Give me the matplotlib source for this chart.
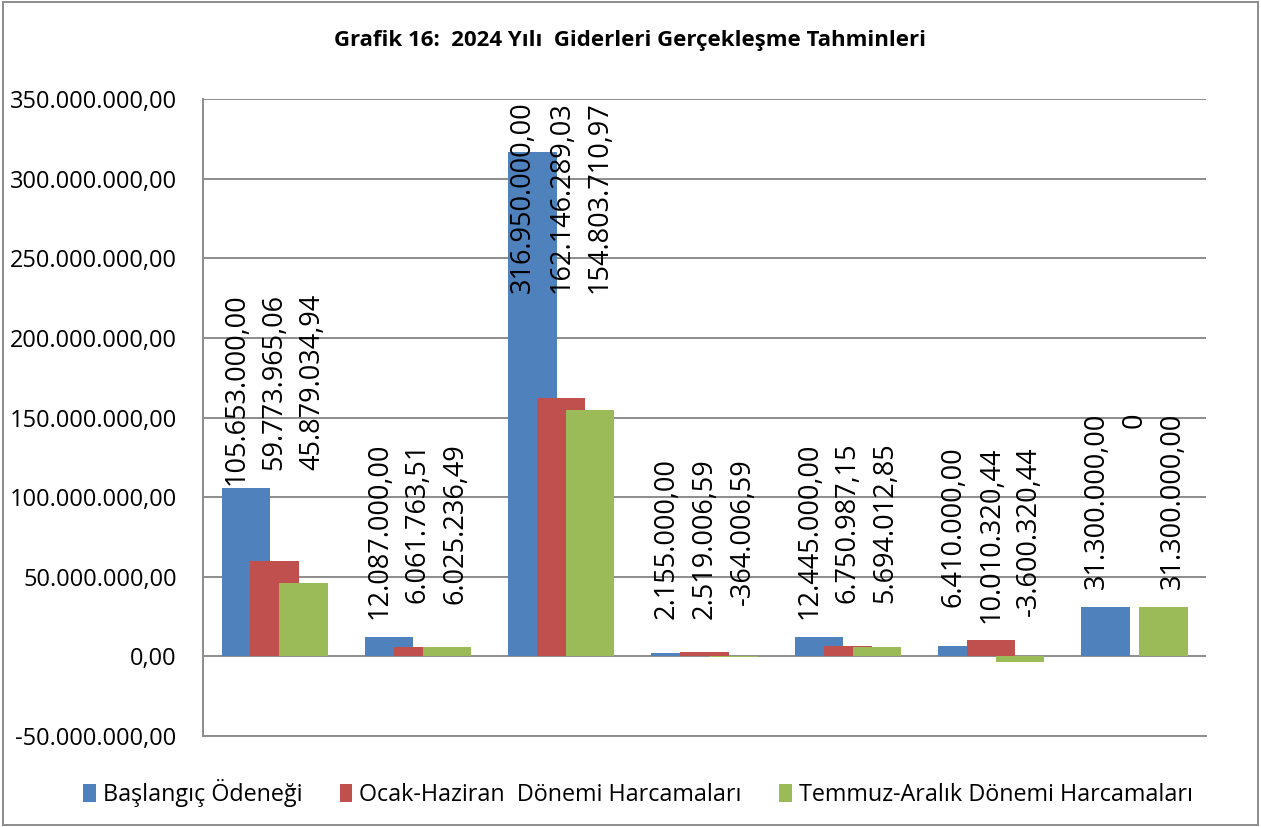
# -*- coding: utf-8 -*-
import numpy as np
import matplotlib.pyplot as plt
from matplotlib.patches import Rectangle

# =============================================================================
# Veri
# =============================================================================
kalemler = ["1", "2", "3", "4", "5", "6", "7"]
baslangic = [105653000.00, 12087000.00, 316950000.00, 2155000.00,
             12445000.00, 6410000.00, 31300000.00]
ocak_haziran = [59773965.06, 6061763.51, 162146289.03, 2519006.59,
                6750987.15, 10010320.44, 0.0]
temmuz_aralik = [45879034.94, 6025236.49, 154803710.97, -364006.59,
                 5694012.85, -3600320.44, 31300000.00]
seriler = ["Başlangıç Ödeneği", "Ocak-Haziran  Dönemi Harcamaları",
           "Temmuz-Aralık Dönemi Harcamaları"]
renkler = ["#4F81BD", "#C0504D", "#9BBB59"]
y_ticks = [-50e6, 0, 50e6, 100e6, 150e6, 200e6, 250e6, 300e6, 350e6]
baslik = "Grafik 16:  2024 Yılı  Giderleri Gerçekleşme Tahminleri"


def tr_format(v):
    if v == 0:
        return "0"
    s = f"{v:,.2f}"
    return s.replace(",", "X").replace(".", ",").replace("X", ".")


plt.rcParams['font.family'] = ['Open Sans', 'DejaVu Sans']

fig = plt.figure(figsize=(12.61, 8.27), dpi=100)
ax = fig.add_axes([0.161, 0.11, 0.7954, 0.7703])

x = np.arange(len(kalemler))
genislik = 0.338
adim = 0.202
veriler = [baslangic, ocak_haziran, temmuz_aralik]

for i, (vals, renk, ad) in enumerate(zip(veriler, renkler, seriler)):
    ax.bar(x + (i - 1) * adim, vals, width=genislik, color=renk, label=ad,
           zorder=2 + i)

# veri etiketleri (dikey)
ymax = 350e6
for g in range(len(kalemler)):
    gmax = max(baslangic[g], ocak_haziran[g], temmuz_aralik[g])
    ust = min(gmax + 122e6, ymax - 1.5e6)
    for i, vals in enumerate(veriler):
        ax.text(x[g] + (i - 1) * 0.265, ust, tr_format(vals[g]),
                rotation=90, ha='center', va='top', fontsize=19.5,
                color='black', zorder=10)

ax.set_xlim(-0.5, len(kalemler) - 0.5)
ax.set_ylim(-50e6, 350e6)
ax.set_yticks(y_ticks)
ax.set_yticklabels([tr_format(v) if v != 0 else "0,00" for v in y_ticks],
                   fontsize=17)
ax.set_xticks([])
ax.tick_params(axis='y', length=0, pad=19)
ax.grid(axis='y', color='#8c8c8c', linewidth=1.4)
ax.set_axisbelow(True)
for s in ['top', 'right']:
    ax.spines[s].set_visible(False)
for s in ['left', 'bottom']:
    ax.spines[s].set_color('#8c8c8c')
    ax.spines[s].set_linewidth(1.4)

fig.text(0.5, 0.951, baslik, ha='center', va='center', fontsize=16,
         fontweight='bold')

fig.legend(loc='center', bbox_to_anchor=(0.506, 0.041), ncol=3,
           frameon=False, fontsize=16.8, handlelength=0.55, handleheight=0.8,
           handletextpad=0.3, columnspacing=1.6)

fig.patches.append(Rectangle((0.002, 0.003), 0.996, 0.994,
                             transform=fig.transFigure, fill=False,
                             edgecolor='#8c8c8c', linewidth=1.4))

fig.savefig('out.png', dpi=100)
